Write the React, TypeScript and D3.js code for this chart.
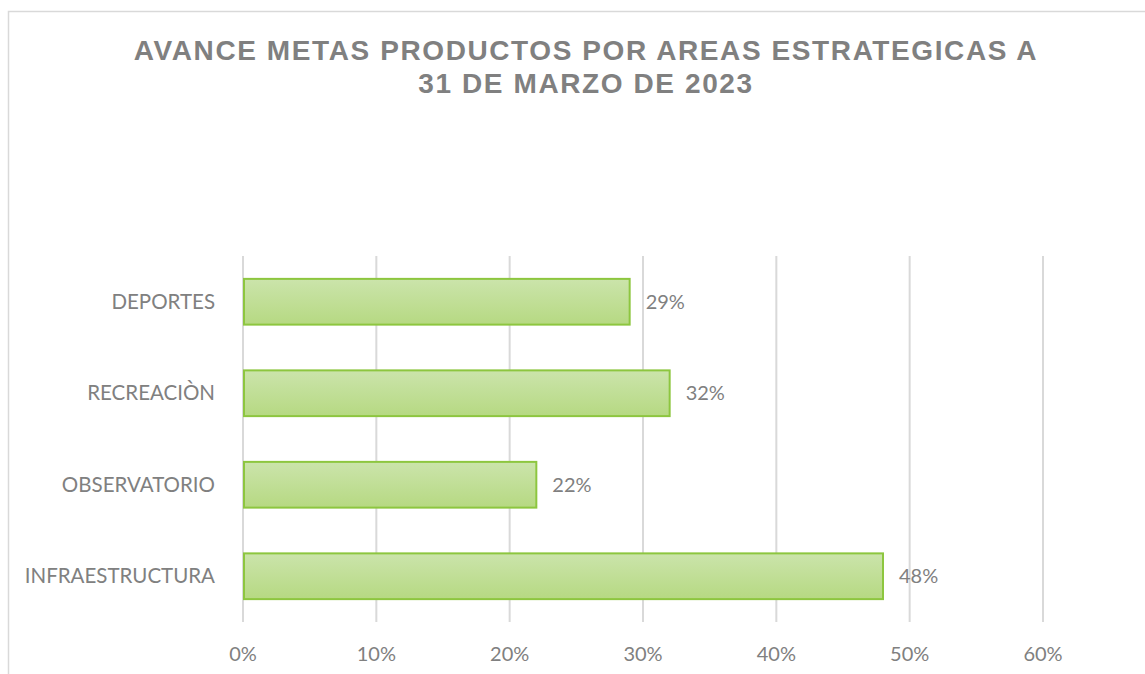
import React from "react";
import * as d3 from "d3";

const categories = ["DEPORTES", "RECREACIÒN", "OBSERVATORIO", "INFRAESTRUCTURA"];
const values = [0.29, 0.32, 0.22, 0.48];
const xTicks = [0, 0.1, 0.2, 0.3, 0.4, 0.5, 0.6];
const titleLines = ["AVANCE METAS PRODUCTOS POR AREAS ESTRATEGICAS A", "31 DE MARZO DE 2023"];

const W = 1145;
const H = 674;
const plot = { left: 243, right: 1043, top: 256, bottom: 622 };
const labelFont = "Lato, 'Open Sans', sans-serif";

export default function App() {
  const x = d3.scaleLinear().domain([0, 0.6]).range([plot.left, plot.right]);
  const y = d3.scaleBand<string>().domain(categories).range([plot.top, plot.bottom]).paddingInner(0.5).paddingOuter(0.25);
  const fmt = d3.format(".0%");
  return (
    <svg width={W} height={H} style={{ position: "absolute", left: 0, top: 0 }}>
      <defs>
        <linearGradient id="barGrad" x1="0" y1="0" x2="0" y2="1">
          <stop offset="0%" stopColor="#cbe4ab" />
          <stop offset="100%" stopColor="#b6d982" />
        </linearGradient>
      </defs>
      <rect x={0} y={0} width={W} height={H} fill="#fff" />
      <rect x={8.5} y={11.5} width={W + 20} height={H + 20} fill="none" stroke="#d9d9d9" strokeWidth={1.5} />
      {titleLines.map((t, i) => (
        <text key={i} x={586} y={60 + i * 33} textAnchor="middle" fontFamily="'Liberation Sans', Arial, sans-serif" fontWeight="bold" fontSize={28} letterSpacing={1.6} fill="#808080">
          {t}
        </text>
      ))}
      {xTicks.map((t) => (
        <g key={t}>
          <line x1={x(t)} x2={x(t)} y1={plot.top} y2={plot.bottom} stroke="#d9d9d9" strokeWidth={2} />
          <text x={x(t)} y={661} textAnchor="middle" fontFamily={labelFont} fontSize={20} fill="#808080">
            {fmt(t)}
          </text>
        </g>
      ))}
      {categories.map((c, i) => {
        const by = y(c)!;
        const bh = y.bandwidth();
        return (
          <g key={c}>
            <rect x={x(0) + 1} y={by} width={x(values[i]) - x(0) - 1} height={bh} fill="url(#barGrad)" stroke="#8dc63f" strokeWidth={2} />
            <text x={215} y={by + bh / 2} dy="0.35em" textAnchor="end" fontFamily={labelFont} fontSize={20.5} fill="#808080">
              {c}
            </text>
            <text x={x(values[i]) + 16} y={by + bh / 2} dy="0.35em" textAnchor="start" fontFamily={labelFont} fontSize={20} fill="#808080">
              {fmt(values[i])}
            </text>
          </g>
        );
      })}
    </svg>
  );
}
